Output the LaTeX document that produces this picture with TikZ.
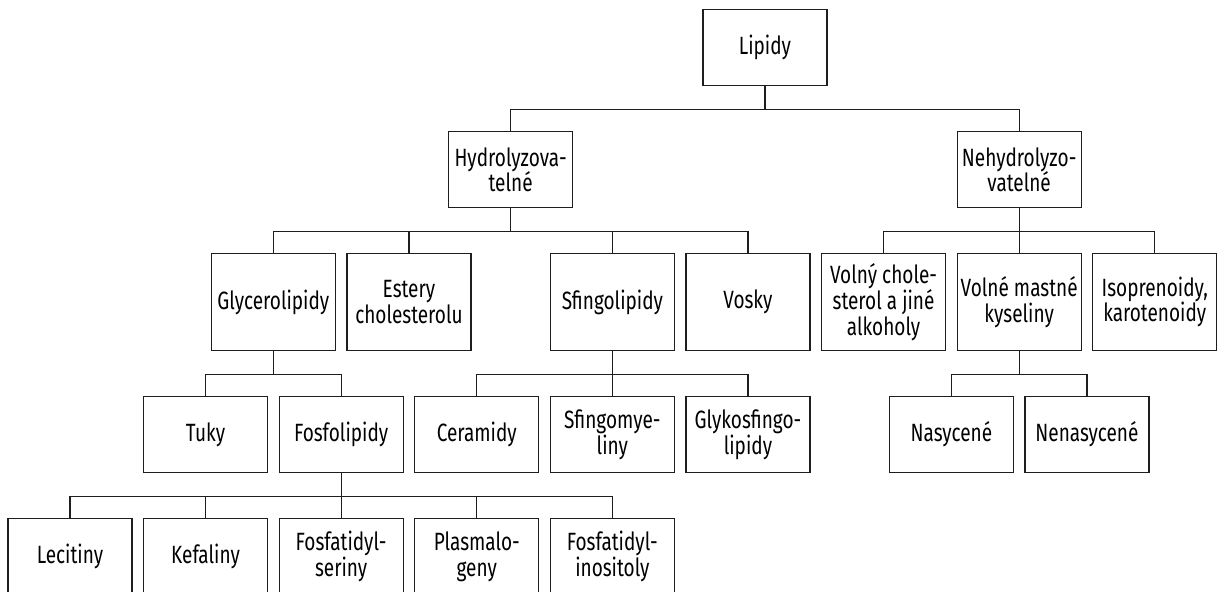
\documentclass[tikz,border=0pt]{standalone}
\usepackage{fontspec}
\setmainfont{Fira Sans}[FakeStretch=0.76]
\usepackage{tikz}
\usetikzlibrary{positioning}
\definecolor{lnblack}{RGB}{30,30,30}

\begin{document}
\begin{tikzpicture}[x=67.8pt,y=-0.5pt,
    box/.style={draw=lnblack,line width=0.6pt,minimum width=62pt,
                minimum height=38pt,align=center,inner sep=1pt,
                anchor=north,font=\fontsize{12.5}{12.8}\selectfont},
    tallbox/.style={box,minimum height=48.5pt},
    link/.style={lnblack,line width=0.6pt}
  ]
    \useasboundingbox (-0.516,0) rectangle (8.496,592);

    \node[box] (lip) at (5.125,9) {Lipidy};
    \node[box] (hyd) at (3.25,131) {Hydrolyzova-\\telné};
    \node[box] (neh) at (7,131) {Nehydrolyzo-\\vatelné};

    \node[tallbox] (gly) at (1.5,253) {Glycerolipidy};
    \node[tallbox] (est) at (2.5,253) {Estery\\cholesterolu};
    \node[tallbox] (sfi) at (4,253) {Sfingolipidy};
    \node[tallbox] (vos) at (5,253) {Vosky};
    \node[tallbox] (vch) at (6,253) {Volný chole-\\sterol a jiné\\alkoholy};
    \node[tallbox] (vmk) at (7,253) {Volné mastné\\kyseliny};
    \node[tallbox] (iso) at (8,253) {Isoprenoidy,\\karotenoidy};

    \node[box] (tuk) at (1,396) {Tuky};
    \node[box] (fos) at (2,396) {Fosfolipidy};
    \node[box] (cer) at (3,396) {Ceramidy};
    \node[box] (sfm) at (4,396) {Sfingomye-\\liny};
    \node[box] (gks) at (5,396) {Glykosfingo-\\lipidy};
    \node[box] (nas) at (6.5,396) {Nasycené};
    \node[box] (nen) at (7.5,396) {Nenasycené};

    \node[box] (lec) at (0,518) {Lecitiny};
    \node[box] (kef) at (1,518) {Kefaliny};
    \node[box] (fse) at (2,518) {Fosfatidyl-\\seriny};
    \node[box] (pla) at (3,518) {Plasmalo-\\geny};
    \node[box] (fin) at (4,518) {Fosfatidyl-\\inositoly};

    % elbow connectors, parent -> child
    \foreach \p/\c in {lip/hyd,lip/neh,hyd/gly,hyd/est,hyd/sfi,hyd/vos,
                       neh/vch,neh/vmk,neh/iso,gly/tuk,gly/fos,
                       sfi/cer,sfi/sfm,sfi/gks,vmk/nas,vmk/nen,
                       fos/lec,fos/kef,fos/fse,fos/pla,fos/fin}
      \draw[link] (\p.south) -- ++(0,23) -| (\c.north);
  \end{tikzpicture}
\end{document}
